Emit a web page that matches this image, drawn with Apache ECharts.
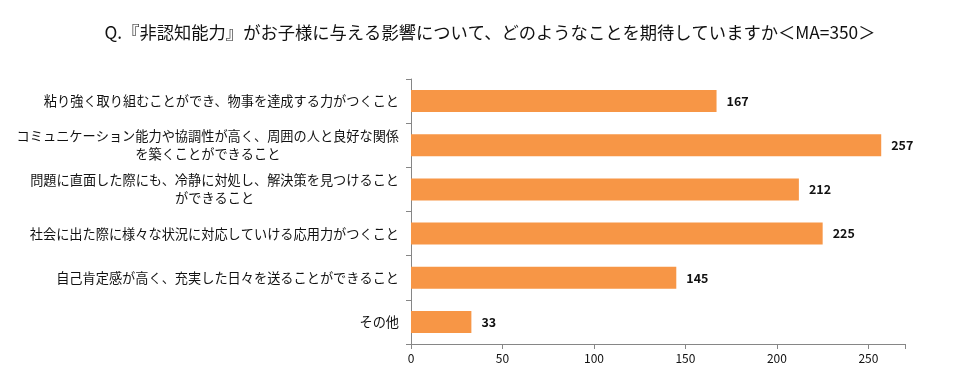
<!DOCTYPE html>
<html><head><meta charset="utf-8">
<script src="https://cdn.jsdelivr.net/npm/echarts@6/dist/echarts.min.js"></script>
<style>html,body{margin:0;padding:0;background:#fff}#c{width:966px;height:387px}</style>
</head><body><div id="c"></div>
<script>
const titleText = 'Q.『非認知能力』がお子様に与える影響について、どのようなことを期待していますか＜MA=350＞';
const categories = [
  '粘り強く取り組むことができ、物事を達成する力がつくこと',
  'コミュニケーション能力や協調性が高く、周囲の人と良好な関係\nを築くことができること',
  '問題に直面した際にも、冷静に対処し、解決策を見つけること\nができること',
  '社会に出た際に様々な状況に対応していける応用力がつくこと',
  '自己肯定感が高く、充実した日々を送ることができること',
  'その他'
];
const values = [167, 257, 212, 225, 145, 33];
const xTicks = [0, 50, 100, 150, 200, 250];

const font = '"Noto Sans CJK JP", "Noto Sans", sans-serif';
const chart = echarts.init(document.getElementById('c'));
chart.setOption({
  animation: false,
  textStyle: { fontFamily: font },
  title: {
    text: titleText, left: 485, textAlign: 'center', top: 19,
    textStyle: { fontSize: 17.3, fontWeight: 'normal', color: '#111', fontFamily: font }
  },
  grid: { left: 411, right: 61, top: 79, bottom: 43, containLabel: false },
  xAxis: {
    type: 'value', min: 0, max: 270, interval: 50,
    splitLine: { show: false },
    axisLine: { show: true, lineStyle: { color: '#868686', width: 1 } },
    axisTick: { show: true, length: 5, lineStyle: { color: '#868686' } },
    axisLabel: {
      color: '#111', fontSize: 12, margin: 8,
      formatter: v => xTicks.includes(v) ? String(v) : ''
    }
  },
  yAxis: {
    type: 'category', data: categories, inverse: true,
    axisLine: { show: true, lineStyle: { color: '#868686', width: 1 } },
    axisTick: { show: true, length: 5, lineStyle: { color: '#868686' } },
    axisLabel: {
      color: '#111', margin: 12, fontSize: 13.2,
      formatter: v => v.split('\n').map(s => '{a|' + s + '}').join('\n'),
      rich: { a: { align: 'center', fontSize: 13.2, lineHeight: 18, color: '#111', fontFamily: font } }
    }
  },
  series: [{
    type: 'bar', data: values, barWidth: 22,
    itemStyle: { color: '#F79646' },
    label: { show: true, position: 'right', distance: 10, color: '#111', fontSize: 12.5, fontWeight: 'bold' }
  }]
});
</script></body></html>
